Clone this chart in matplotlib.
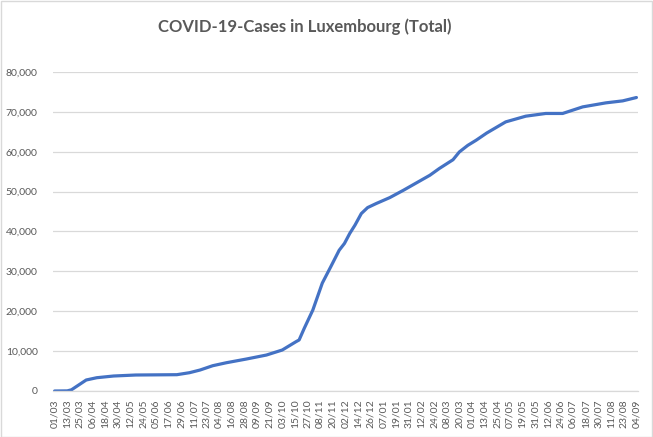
import datetime as dt
import matplotlib
matplotlib.use("Agg")
import matplotlib.pyplot as plt
import matplotlib.dates as mdates
from matplotlib.patches import Rectangle
from matplotlib.ticker import FuncFormatter

# values (total cases)
dates = [
    "2020-03-01", "2020-03-13", "2020-03-17", "2020-03-31", "2020-04-10",
    "2020-04-26", "2020-05-17", "2020-06-25", "2020-07-07", "2020-07-17",
    "2020-07-29", "2020-08-11", "2020-08-30", "2020-09-18", "2020-10-03",
    "2020-10-16", "2020-10-19", "2020-10-24", "2020-11-01", "2020-11-10",
    "2020-11-18", "2020-11-26", "2020-12-01", "2020-12-06", "2020-12-11",
    "2020-12-17", "2020-12-23", "2020-12-31", "2021-01-13", "2021-01-26",
    "2021-02-10", "2021-02-20", "2021-03-01", "2021-03-14", "2021-03-20",
    "2021-03-28", "2021-04-05", "2021-04-15", "2021-05-03", "2021-05-22",
    "2021-06-10", "2021-06-26", "2021-07-15", "2021-08-06", "2021-08-22",
    "2021-09-04",
]
cases = [
    0, 30, 300, 2760, 3330,
    3760, 4010, 4090, 4590, 5260,
    6340, 7090, 8020, 9020, 10280,
    12360, 12800, 15800, 20300, 27070,
    31150, 35300, 37000, 39500, 41600,
    44500, 46000, 47000, 48500, 50350,
    52600, 54100, 55800, 58000, 59950,
    61600, 62900, 64700, 67490, 68920,
    69600, 69600, 71250, 72260, 72760,
    73600,
]
y_ticks = [0, 10000, 20000, 30000, 40000, 50000, 60000, 70000, 80000]

plt.rcParams["font.family"] = ["Lato", "DejaVu Sans"]
grey_text = "#595959"
grid_col = "#D9D9D9"

x = [dt.datetime.strptime(d, "%Y-%m-%d") for d in dates]
start = x[0]
end = x[-1]

fig = plt.figure(figsize=(6.53, 4.37), dpi=100)
W, H = 653, 437
ax = fig.add_axes([53 / W, 46 / H, (638 - 53) / W, (391 - 72) / H])

ax.plot(x, cases, color="#4472C4", lw=2.3, solid_joinstyle="round",
        solid_capstyle="round")

ax.set_ylim(0, 80000)
ax.set_yticks(y_ticks)
ax.yaxis.set_major_formatter(FuncFormatter(lambda v, p: f"{int(v):,}"))
ax.grid(axis="y", color=grid_col, lw=0.9)
ax.set_axisbelow(True)

# one label every 12 days starting with the first day
ticks = []
t = start
while t <= end:
    ticks.append(t)
    t += dt.timedelta(days=12)
ax.set_xticks(ticks)
ax.xaxis.set_major_formatter(mdates.DateFormatter("%d/%m"))
ax.set_xlim(start - dt.timedelta(days=1.5), end + dt.timedelta(days=1.5))

for s in ["top", "right", "left"]:
    ax.spines[s].set_visible(False)
ax.spines["bottom"].set_color(grid_col)
ax.spines["bottom"].set_linewidth(0.9)
ax.tick_params(axis="both", length=0, colors=grey_text, labelsize=7.5)
ax.tick_params(axis="y", pad=11)
ax.tick_params(axis="x", pad=6, labelrotation=90)

fig.text(305 / W, 1 - 27 / H, "COVID-19-Cases in Luxembourg (Total)",
         ha="center", va="center", fontsize=12, fontweight="bold",
         color=grey_text)

fig.patches.append(Rectangle((0.5 / W, 0.5 / H), 1 - 1.5 / W, 1 - 1.5 / H,
                             transform=fig.transFigure, fill=False,
                             edgecolor=grid_col, lw=1))

fig.savefig("out.png", dpi=100)
